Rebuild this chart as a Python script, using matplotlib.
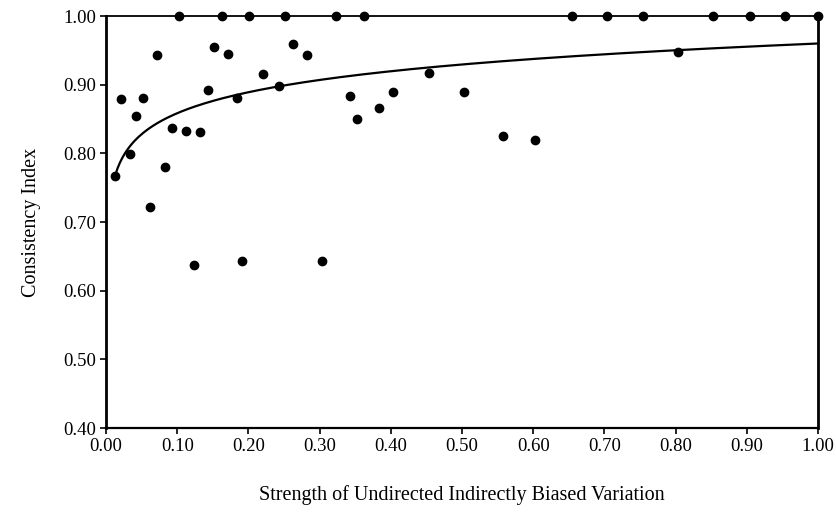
import numpy as np
import matplotlib.pyplot as plt

# strength of undirected indirectly biased variation
strength = [0.013, 0.021, 0.033, 0.042, 0.052, 0.062, 0.072, 0.083, 0.092, 0.103,
            0.112, 0.123, 0.132, 0.143, 0.152, 0.163, 0.172, 0.184, 0.191, 0.201,
            0.221, 0.243, 0.252, 0.262, 0.282, 0.303, 0.323, 0.343, 0.352, 0.363,
            0.383, 0.403, 0.453, 0.503, 0.557, 0.603, 0.655, 0.703, 0.754, 0.804,
            0.853, 0.904, 0.954, 1.0]
consistency = [0.767, 0.879, 0.799, 0.855, 0.880, 0.722, 0.943, 0.780, 0.837, 1.0,
               0.832, 0.637, 0.831, 0.892, 0.955, 1.0, 0.944, 0.881, 0.643, 1.0,
               0.915, 0.898, 1.0, 0.959, 0.943, 0.643, 1.0, 0.884, 0.850, 1.0,
               0.866, 0.889, 0.917, 0.890, 0.825, 0.820, 1.0, 1.0, 1.0, 0.947,
               1.0, 1.0, 1.0, 1.0]

# logarithmic trend line y = a + b*ln(x)
fit_a = 0.960
fit_b = 0.0441

xticks = [0.0, 0.1, 0.2, 0.3, 0.4, 0.5, 0.6, 0.7, 0.8, 0.9, 1.0]
yticks = [0.4, 0.5, 0.6, 0.7, 0.8, 0.9, 1.0]

plt.rcParams['font.family'] = ['Liberation Serif', 'DejaVu Serif']

fig = plt.figure(figsize=(8.36, 5.12), dpi=100)
ax = fig.add_axes([0.1268, 0.164, 0.8517, 0.8047])

xs = np.linspace(min(strength), 1.0, 300)
ax.plot(xs, fit_a + fit_b * np.log(xs), color='black', lw=1.6, clip_on=False)
ax.plot(strength, consistency, 'o', color='black', markersize=6, clip_on=False, zorder=3)

ax.set_xlim(0, 1)
ax.set_ylim(0.4, 1.0)
ax.set_xticks(xticks)
ax.set_xticklabels(['%.2f' % t for t in xticks])
ax.set_yticks(yticks)
ax.set_yticklabels(['%.2f' % t for t in yticks])
ax.tick_params(direction='out', length=4, width=1.2, labelsize=13.5, colors='black', pad=3)

for side, w in [('left', 2.0), ('bottom', 1.6), ('top', 1.3), ('right', 2.0)]:
    ax.spines[side].set_linewidth(w)
    ax.spines[side].set_color('black')

ax.set_xlabel('Strength of Undirected Indirectly Biased Variation', fontsize=14.5, labelpad=22)
ax.set_ylabel('Consistency Index', fontsize=14.5, labelpad=16)

fig.savefig('out.png', dpi=100)
